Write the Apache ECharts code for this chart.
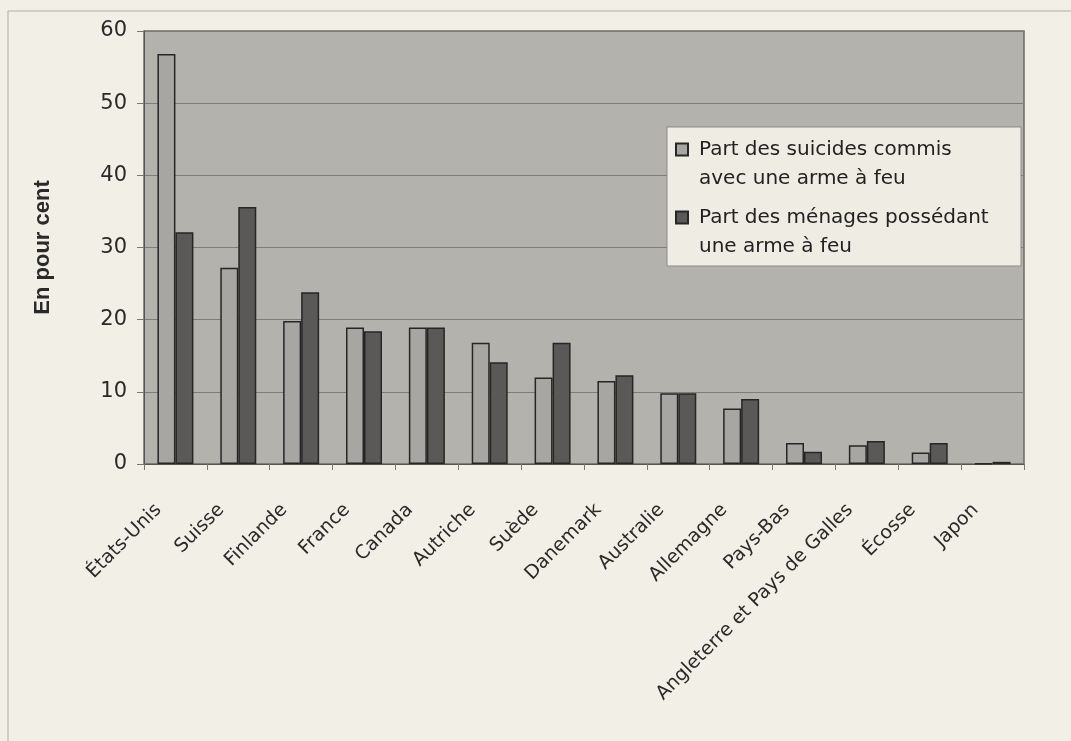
<!DOCTYPE html>
<html>
<head>
<meta charset="utf-8">
<script src="https://cdn.jsdelivr.net/npm/echarts@6/dist/echarts.min.js"></script>
<style>
html,body{margin:0;padding:0;background:#f2efe7;}
#chart{width:1071px;height:741px;}
</style>
</head>
<body>
<div id="chart"></div>
<script>
const categories = ['États-Unis','Suisse','Finlande','France','Canada','Autriche','Suède','Danemark','Australie','Allemagne','Pays-Bas','Angleterre et Pays de Galles','Écosse','Japon'];
const suicidesArme = [56.8, 27.2, 19.8, 18.9, 18.9, 16.8, 12.0, 11.5, 9.8, 7.7, 2.9, 2.6, 1.6, 0.1];
const menagesArme = [32.1, 35.6, 23.8, 18.4, 18.9, 14.1, 16.8, 12.3, 9.8, 9.0, 1.7, 3.2, 2.9, 0.3];
const yTicks = [0, 10, 20, 30, 40, 50, 60];
const seriesNames = ['Part des suicides commis avec une arme à feu', 'Part des ménages possédant une arme à feu'];
const legendLabels = {
  'Part des suicides commis avec une arme à feu': 'Part des suicides commis\navec une arme à feu',
  'Part des ménages possédant une arme à feu': 'Part des ménages possédant\nune arme à feu'
};

const chart = echarts.init(document.getElementById('chart'), null, {renderer: 'canvas'});
const legendIcon = 'path://M0,0M0,8.5H12V20.5H0ZM12,58';
chart.setOption({
  backgroundColor: '#f2efe7',
  animation: false,
  graphic: [
    {type: 'line', shape: {x1: 8, y1: 11, x2: 1071, y2: 11}, style: {stroke: '#aeaca6', lineWidth: 1}},
    {type: 'line', shape: {x1: 8, y1: 11, x2: 8, y2: 741}, style: {stroke: '#aeaca6', lineWidth: 1}}
  ],
  grid: {
    left: 144, right: 47, top: 31, bottom: 277,
    show: true, backgroundColor: '#b4b2ac', borderColor: '#6a6a6a', borderWidth: 1.5
  },
  legend: {
    orient: 'vertical',
    left: 667, top: 127,
    data: seriesNames.map(n => ({name: n, icon: legendIcon})),
    itemWidth: 12, itemHeight: 58, itemGap: 8,
    padding: [7, 8, 4, 8],
    backgroundColor: '#efece4',
    borderColor: '#8a8a88', borderWidth: 1,
    formatter: n => legendLabels[n],
    textStyle: {fontFamily: 'DejaVu Sans', fontSize: 20, lineHeight: 29, color: '#222',
      padding: [0, 0, 0, 6], width: 314}
  },
  xAxis: {
    type: 'category',
    data: categories,
    axisLine: {lineStyle: {color: '#555', width: 1}},
    axisTick: {show: true, length: 6, lineStyle: {color: '#777'}},
    axisLabel: {interval: 0, rotate: 45, margin: 26, padding: [0, 24, 0, 0],
      fontFamily: 'DejaVu Sans', fontSize: 19, color: '#2a2a2a'}
  },
  yAxis: {
    type: 'value',
    min: 0, max: 60, interval: 10,
    name: 'En pour cent',
    nameLocation: 'middle',
    nameRotate: 90,
    nameGap: 90,
    nameTextStyle: {fontFamily: 'Liberation Sans', fontWeight: 'bold', fontSize: 22, color: '#2a2a2a'},
    axisLine: {show: true, lineStyle: {color: '#555', width: 1}},
    axisTick: {show: true, length: 7, lineStyle: {color: '#777'}},
    axisLabel: {margin: 17, fontFamily: 'DejaVu Sans', fontSize: 21, color: '#2a2a2a',
      formatter: v => yTicks.includes(v) ? String(v) : ''},
    splitLine: {lineStyle: {color: '#7d7c78', width: 1}}
  },
  series: [
    {name: seriesNames[0], type: 'bar', data: suicidesArme, barWidth: 18, barGap: '0%',
     itemStyle: {color: '#a7a6a2', borderColor: '#262626', borderWidth: 1.5}},
    {name: seriesNames[1], type: 'bar', data: menagesArme, barWidth: 18, barGap: '0%',
     itemStyle: {color: '#5a5958', borderColor: '#262626', borderWidth: 1.5}}
  ]
});
</script>
</body>
</html>
